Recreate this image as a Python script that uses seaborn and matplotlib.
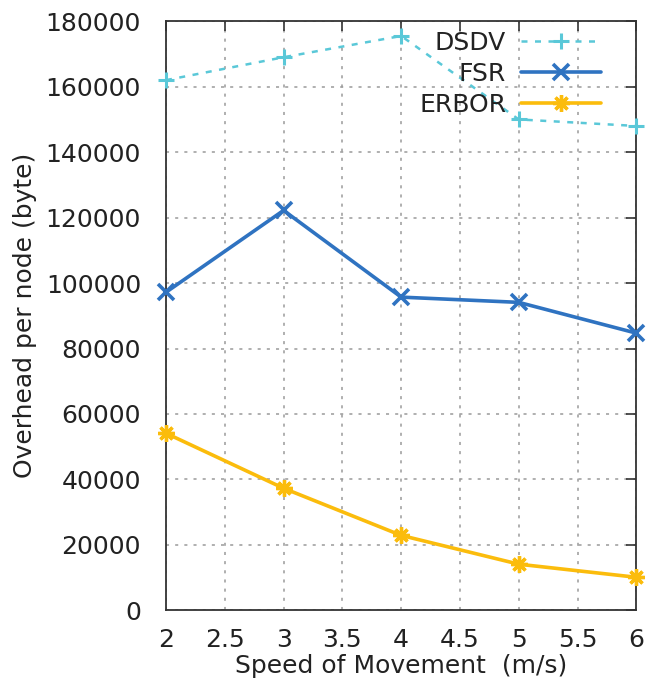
import matplotlib
matplotlib.use("Agg")
import matplotlib.pyplot as plt
import seaborn as sns
import pandas as pd

speeds = [2, 3, 4, 5, 6]
dsdv = [162000, 169000, 175500, 150000, 148000]
fsr = [97200, 122200, 95700, 94100, 84700]
erbor = [54100, 37300, 22900, 14100, 10100]
protocols = ["DSDV", "FSR", "ERBOR"]

df = pd.DataFrame({
    "speed": speeds * 3,
    "overhead": dsdv + fsr + erbor,
    "protocol": [p for p in protocols for _ in speeds],
})

sns.set_style("white")
plt.rcParams["font.family"] = ["DejaVu Sans"]

colors = {"DSDV": "#5ac8d8", "FSR": "#2f73c1", "ERBOR": "#fbbc0c"}
markers = {"DSDV": "+", "FSR": "x", "ERBOR": (8, 2, 0)}
widths = {"DSDV": 1.8, "FSR": 2.6, "ERBOR": 2.6}
edge = {"DSDV": 2.2, "FSR": 2.6, "ERBOR": 2.4}

fig = plt.figure(figsize=(6.46, 6.85), dpi=100)
ax = fig.add_axes([0.257, 0.109, 0.728, 0.860])

for p in protocols:
    sub = df[df["protocol"] == p]
    sns.lineplot(data=sub, x="speed", y="overhead", ax=ax, color=colors[p],
                 marker=markers[p], markersize=12, markeredgewidth=edge[p],
                 markeredgecolor=colors[p], markerfacecolor=colors[p],
                 linewidth=widths[p], linestyle="--" if p == "DSDV" else "-",
                 clip_on=False, zorder=3)

lines = ax.get_lines()[:3]
lines[0].set_dashes((2.4, 3.0))
for ln, p in zip(lines, protocols):
    ln.set_label(p)

fs = 18
ax.set_xlim(2, 6)
ax.set_ylim(0, 180000)
ax.set_xticks([2, 2.5, 3, 3.5, 4, 4.5, 5, 5.5, 6])
ax.set_xticklabels(["2", "2.5", "3", "3.5", "4", "4.5", "5", "5.5", "6"])
ax.set_yticks(range(0, 180001, 20000))
ax.set_xlabel("Speed of Movement  (m/s)", fontsize=fs, color="#222222", labelpad=1)
ax.set_ylabel("Overhead per node (byte)", fontsize=fs, color="#222222", labelpad=6)
ax.tick_params(axis="both", which="major", direction="in", length=7, width=1.2,
               top=True, right=True, labelsize=fs, labelcolor="#222222",
               color="#333333")
ax.tick_params(axis="x", pad=13)
ax.tick_params(axis="y", pad=18)
ax.grid(True, linestyle=(0, (2, 4)), color="#9a9a9a", linewidth=1.1)
for s in ax.spines.values():
    s.set_color("#333333")
    s.set_linewidth(1.3)

ax.legend(handles=lines, labels=protocols, loc="upper right",
          bbox_to_anchor=(0.925, 0.983), frameon=False, borderpad=0,
          borderaxespad=0, markerfirst=False, fontsize=fs, handlelength=3.2,
          handletextpad=0.6, labelspacing=0.27, labelcolor="#222222")

fig.savefig("out.png", dpi=100)
